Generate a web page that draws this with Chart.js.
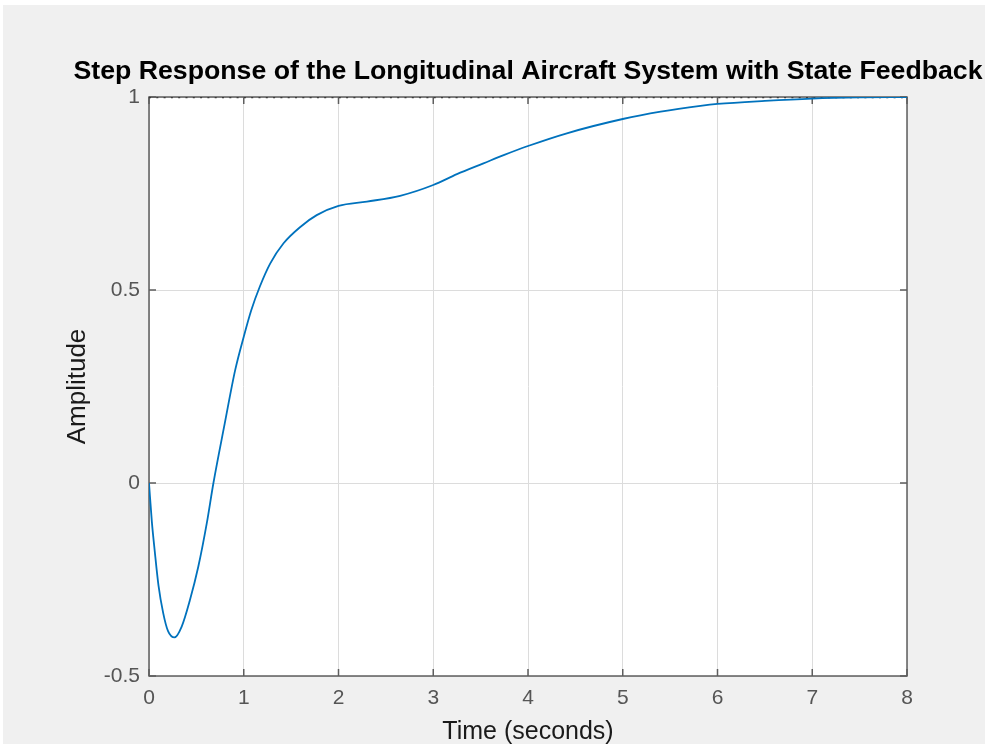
<!DOCTYPE html>
<html>
<head>
<meta charset="utf-8">
<script src="https://cdn.jsdelivr.net/npm/chart.js@4.4.1/dist/chart.umd.min.js"></script>
<style>
html,body{margin:0;padding:0;background:#ffffff;}
#wrap{position:absolute;left:3px;top:5px;width:982px;height:739px;background:#f0f0f0;}
canvas{display:block;}
</style>
</head>
<body>
<div id="wrap"><canvas id="c" width="982" height="739"></canvas></div>
<script>
// Data
const timeSec = [0, 0.03, 0.06, 0.1, 0.15, 0.2, 0.27, 0.345, 0.43, 0.52, 0.61, 0.68, 0.8, 0.91, 1.0, 1.08, 1.17, 1.28, 1.42, 1.6, 1.77, 2.0, 2.3, 2.65, 3.0, 3.25, 3.53, 3.75, 4.0, 4.41, 5.0, 5.4, 5.82, 6.0, 6.5, 7.0, 7.5, 8.0];
const amplitude = [0, -0.1, -0.175, -0.265, -0.337, -0.383, -0.40, -0.372, -0.305, -0.217, -0.104, 0.0, 0.155, 0.293, 0.379, 0.448, 0.509, 0.569, 0.621, 0.664, 0.694, 0.718, 0.729, 0.744, 0.772, 0.80, 0.828, 0.85, 0.873, 0.906, 0.943, 0.962, 0.977, 0.982, 0.99, 0.996, 0.999, 1.0];
const steadyTime = [0, 8];
const steadyValue = [1, 1];
const xTicks = [0, 1, 2, 3, 4, 5, 6, 7, 8];
const yTicks = [-0.5, 0, 0.5, 1];
const titleText = 'Step Response of the Longitudinal Aircraft System with State Feedback';
const xLabel = 'Time (seconds)';
const yLabel = 'Amplitude';

const stepPts = timeSec.map((t, i) => ({x: t, y: amplitude[i]}));
const ssPts = steadyTime.map((t, i) => ({x: t, y: steadyValue[i]}));
const FONT = '"Liberation Sans", Arial, sans-serif';

const boxPlugin = {
  id: 'box',
  beforeDraw(chart) {
    const a = chart.chartArea, ctx = chart.ctx;
    ctx.save();
    ctx.fillStyle = '#ffffff';
    ctx.fillRect(a.left, a.top, a.right - a.left, a.bottom - a.top);
    ctx.restore();
  },
  beforeDatasetsDraw(chart) {
    const a = chart.chartArea, ctx = chart.ctx;
    const xs = chart.scales.x, ys = chart.scales.y;
    ctx.save();
    ctx.strokeStyle = '#5e5e5e';
    ctx.lineWidth = 1.5;
    ctx.strokeRect(a.left, a.top, a.right - a.left, a.bottom - a.top);
    const L = 7;
    xTicks.forEach(v => {
      const px = xs.getPixelForValue(v);
      ctx.beginPath();
      ctx.moveTo(px, a.bottom); ctx.lineTo(px, a.bottom - L);
      ctx.moveTo(px, a.top); ctx.lineTo(px, a.top + L);
      ctx.stroke();
    });
    yTicks.forEach(v => {
      const py = ys.getPixelForValue(v);
      ctx.beginPath();
      ctx.moveTo(a.left, py); ctx.lineTo(a.left + L, py);
      ctx.moveTo(a.right, py); ctx.lineTo(a.right - L, py);
      ctx.stroke();
    });
    ctx.restore();
  },
  afterDraw(chart) {
    const a = chart.chartArea, ctx = chart.ctx;
    ctx.save();
    ctx.fillStyle = '#000000';
    ctx.font = 'bold 26.7px ' + FONT;
    ctx.textAlign = 'center';
    ctx.textBaseline = 'middle';
    ctx.fillText(titleText, (a.left + a.right) / 2, 67);
    ctx.restore();
  }
};

new Chart(document.getElementById('c'), {
  type: 'scatter',
  data: {
    datasets: [
      {
        data: stepPts,
        showLine: true,
        borderColor: '#0072BD',
        borderWidth: 1.8,
        pointRadius: 0,
        cubicInterpolationMode: 'monotone',
        fill: false
      },
      {
        data: ssPts,
        showLine: true,
        borderColor: '#3a3a3a',
        borderWidth: 2.5,
        borderDash: [2, 5.3],
        pointRadius: 0,
        fill: false
      }
    ]
  },
  options: {
    responsive: false,
    animation: false,
    devicePixelRatio: 1,
    layout: {padding: {top: 92, right: 78, left: 0, bottom: 0}},
    plugins: {legend: {display: false}, tooltip: {enabled: false}, title: {display: false}},
    scales: {
      x: {
        type: 'linear', min: 0, max: 8,
        afterFit: s => { s.height = 68; },
        afterBuildTicks: s => { s.ticks = xTicks.map(v => ({value: v})); },
        grid: {color: '#dcdcdc', lineWidth: 1, drawTicks: false},
        border: {display: false},
        ticks: {color: '#555555', font: {family: FONT, size: 21}, padding: 10, maxRotation: 0},
        title: {display: true, text: xLabel, color: '#1a1a1a', font: {family: FONT, size: 25, lineHeight: 1}, padding: {top: 0, bottom: -1}}
      },
      y: {
        type: 'linear', min: -0.5, max: 1,
        afterFit: s => { s.width = 146; },
        afterBuildTicks: s => { s.ticks = yTicks.map(v => ({value: v})); },
        grid: {color: '#dcdcdc', lineWidth: 1, drawTicks: false},
        border: {display: false},
        ticks: {color: '#555555', font: {family: FONT, size: 21}, padding: 9,
                callback: v => String(v)},
        title: {display: true, text: yLabel, color: '#1a1a1a', font: {family: FONT, size: 26, lineHeight: 1}, padding: {top: 62, bottom: 0}}
      }
    }
  },
  plugins: [boxPlugin]
});
</script>
</body>
</html>
